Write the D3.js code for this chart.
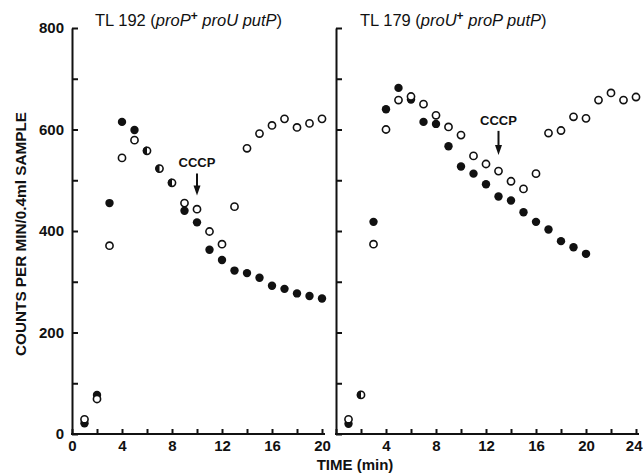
<!DOCTYPE html>
<html>
<head>
<meta charset="utf-8">
<script src="https://cdn.jsdelivr.net/npm/d3@7"></script>
<style>
  body { margin: 0; background: #fff; }
  svg text { font-family: "Liberation Sans", Arial, sans-serif; fill: #111; }
  .axis path, .axis line { stroke: #111; stroke-width: 2; }
  .axis text { font-size: 15px; font-weight: bold; }
</style>
</head>
<body>
<div id="chart"></div>
<script>

// TL 192 panel (time in min, counts per min / 0.4ml sample)
const leftFilledT = [1, 2, 3, 4, 5, 9, 10, 11, 12, 13, 14, 15, 16, 17, 18, 19, 20];
const leftFilledV = [21, 77, 455, 615, 599, 440, 417, 363, 343, 322, 317, 308, 292, 286, 277, 272, 267];
const leftOpenT = [1, 2, 3, 4, 5, 9, 10, 11, 12, 13, 14, 15, 16, 17, 18, 19, 20];
const leftOpenV = [29, 69, 371, 544, 579, 455, 443, 399, 374, 448, 563, 592, 608, 621, 604, 612, 621];
const leftBothT = [6, 7, 8];
const leftBothV = [558, 523, 495];

// TL 179 panel
const rightFilledT = [1, 3, 4, 5, 6, 7, 8, 9, 10, 11, 12, 13, 14, 15, 16, 17, 18, 19, 20];
const rightFilledV = [20, 418, 640, 682, 659, 615, 611, 567, 527, 513, 492, 468, 460, 437, 418, 403, 380, 368, 355];
const rightOpenT = [1, 3, 4, 5, 6, 7, 8, 9, 10, 11, 12, 13, 14, 15, 16, 17, 18, 19, 20, 21, 22, 23, 24];
const rightOpenV = [29, 374, 600, 658, 665, 650, 628, 605, 589, 548, 532, 518, 498, 483, 513, 593, 598, 625, 622, 658, 672, 658, 664];
const rightBothT = [2];
const rightBothV = [77];

const yTicks = [0, 100, 200, 300, 400, 500, 600, 700, 800];
const cccpTime = [10, 13];

const width = 643, height = 474;

const svg = d3.select("#chart")
  .append("svg")
  .attr("width", width)
  .attr("height", height);

const y = d3.scaleLinear().domain([0, 800]).range([434, 28]);
const xL = d3.scaleLinear().domain([0, 20]).range([72, 322]);
const xR = d3.scaleLinear().domain([0, 24]).range([336, 636]);

function zip(ts, vs) {
  return ts.map(function (t, i) { return {t: t, v: vs[i]}; });
}

function panel(x, maxT, showY, showZero, filled, open, both, cccp, cccpLabelGap) {
  // y axis, ticks pointing inward
  const ya = d3.axisLeft(y)
    .tickValues(yTicks)
    .tickSizeInner(-6)
    .tickSizeOuter(0)
    .tickPadding(8)
    .tickFormat(function (d) { return showY && d % 200 === 0 ? d : ""; });
  svg.append("g")
    .attr("class", "axis")
    .attr("transform", "translate(" + x(0) + ",0)")
    .call(ya);

  // x axis, ticks pointing up
  const xa = d3.axisBottom(x)
    .tickValues(d3.range(0, maxT + 1, 2))
    .tickSizeInner(-5)
    .tickSizeOuter(0)
    .tickPadding(6)
    .tickFormat(function (d) {
      if (d % 4 !== 0) return "";
      if (d === 0 && !showZero) return "";
      return d;
    });
  const gx = svg.append("g")
    .attr("class", "axis")
    .attr("transform", "translate(0," + y(0) + ")")
    .call(xa);
  gx.select(".domain").attr("d", "M" + (x(0) - 1) + ",0H" + (x(maxT) + 3));
  // keep the last label inside the page
  gx.selectAll(".tick text")
    .filter(function (d) { return x(d) > width - 12; })
    .attr("text-anchor", "end")
    .attr("dx", width - 1 - x(maxT));

  const g = svg.append("g");

  g.selectAll(".filled")
    .data(filled)
    .enter()
    .append("circle")
    .attr("cx", function (d) { return x(d.t); })
    .attr("cy", function (d) { return y(d.v); })
    .attr("r", 4.2)
    .attr("fill", "#111");

  g.selectAll(".open")
    .data(open)
    .enter()
    .append("circle")
    .attr("cx", function (d) { return x(d.t); })
    .attr("cy", function (d) { return y(d.v); })
    .attr("r", 3.6)
    .attr("fill", "#fff")
    .attr("stroke", "#111")
    .attr("stroke-width", 1.6);

  const half = d3.arc()
    .innerRadius(0)
    .outerRadius(4.2)
    .startAngle(Math.PI)
    .endAngle(2 * Math.PI);

  const hb = g.selectAll(".both")
    .data(both)
    .enter()
    .append("g")
    .attr("transform", function (d) { return "translate(" + x(d.t) + "," + y(d.v) + ")"; });
  hb.append("circle")
    .attr("r", 3.6)
    .attr("fill", "#fff")
    .attr("stroke", "#111")
    .attr("stroke-width", 1.6);
  hb.append("path")
    .attr("d", half)
    .attr("fill", "#111");

  // CCCP arrow
  const ax = x(cccp.t);
  const y0 = y(cccp.v);
  svg.append("text")
    .attr("x", ax)
    .attr("y", y0 - cccpLabelGap)
    .attr("text-anchor", "middle")
    .style("font-size", "13px")
    .style("font-weight", "bold")
    .text("CCCP");
  svg.append("line")
    .attr("x1", ax).attr("x2", ax)
    .attr("y1", y0 - cccpLabelGap + 6)
    .attr("y2", y0 - 4)
    .attr("stroke", "#111")
    .attr("stroke-width", 2);
  svg.append("path")
    .attr("d", "M" + (ax - 3.5) + "," + (y0 - 10) + "L" + (ax + 3.5) + "," + (y0 - 10) + "L" + ax + "," + y0 + "Z")
    .attr("fill", "#111");
}

panel(xL, 20, true, true,
  zip(leftFilledT, leftFilledV), zip(leftOpenT, leftOpenV), zip(leftBothT, leftBothV),
  {t: cccpTime[0], v: 470}, 28);

panel(xR, 24, false, false,
  zip(rightFilledT, rightFilledV), zip(rightOpenT, rightOpenV), zip(rightBothT, rightBothV),
  {t: cccpTime[1], v: 550}, 30);

// titles
function title(xPos, strain, g1, g2, g3) {
  const t = svg.append("text")
    .attr("x", xPos)
    .attr("y", 26)
    .style("font-size", "16.5px");
  t.append("tspan").text("TL " + strain + " (");
  t.append("tspan").style("font-style", "italic").text(g1);
  t.append("tspan").attr("dy", -6).style("font-size", "12px").style("font-weight", "bold").text("+");
  t.append("tspan").attr("dy", 6).style("font-style", "italic").text(" " + g2 + " " + g3);
  t.append("tspan").text(")");
}
title(95, "192", "proP", "proU", "putP");
title(360, "179", "proU", "proP", "putP");

// axis titles
svg.append("text")
  .attr("transform", "translate(26,234) rotate(-90)")
  .attr("text-anchor", "middle")
  .style("font-size", "15.3px")
  .style("font-weight", "bold")
  .text("COUNTS PER MIN/0.4ml SAMPLE");

svg.append("text")
  .attr("x", 355)
  .attr("y", 470)
  .attr("text-anchor", "middle")
  .style("font-size", "15px")
  .style("font-weight", "bold")
  .text("TIME (min)");

</script>
</body>
</html>
